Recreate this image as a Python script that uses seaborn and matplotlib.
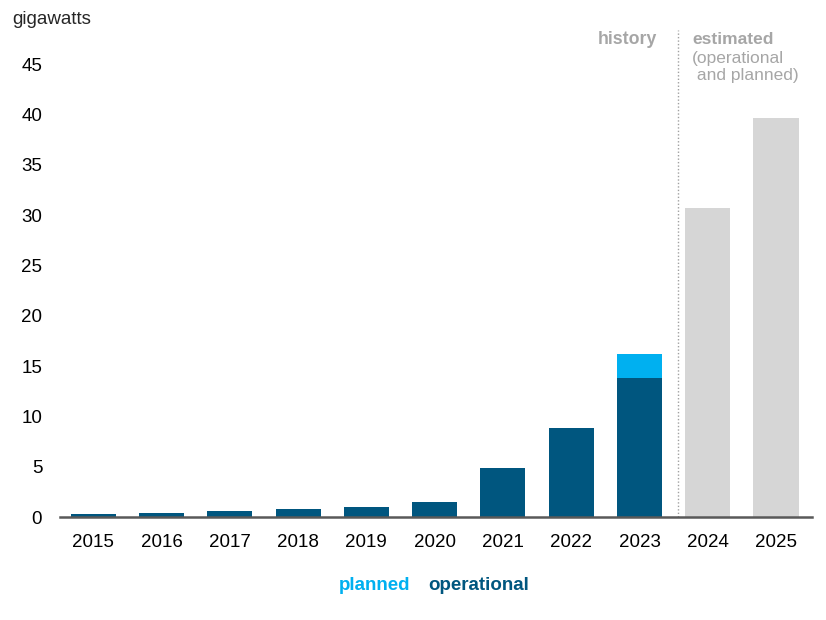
import numpy as np
import pandas as pd
import seaborn as sns
import matplotlib.pyplot as plt

# data (gigawatts)
years = ["2015", "2016", "2017", "2018", "2019", "2020", "2021", "2022", "2023", "2024", "2025"]
hist_years = ["2015", "2016", "2017", "2018", "2019", "2020", "2021", "2022", "2023"]
operational = [0.3, 0.45, 0.6, 0.8, 1.0, 1.45, 4.9, 8.9, 13.8]
planned = [0, 0, 0, 0, 0, 0, 0, 0, 2.4]
est_years = ["2024", "2025"]
estimated = [30.7, 39.7]

dark = "#00567f"
light = "#00b0f0"
grey_bar = "#d6d6d6"
grey_txt = "#a6a6a6"

hist = pd.DataFrame({"year": hist_years, "operational": operational,
                     "total": np.array(operational) + np.array(planned)})
est = pd.DataFrame({"year": est_years, "estimated": estimated})

sns.set_style("white")
plt.rcParams["font.family"] = ["Liberation Sans", "DejaVu Sans"]

fig = plt.figure(figsize=(8.26, 6.2), dpi=100)
ax = fig.add_axes([0.073, 0.166, 0.910, 0.779])

sns.barplot(data=hist, x="year", y="total", order=years, color=light,
            width=0.66, saturation=1, linewidth=0, ax=ax)
sns.barplot(data=hist, x="year", y="operational", order=years, color=dark,
            width=0.66, saturation=1, linewidth=0, ax=ax)
sns.barplot(data=est, x="year", y="estimated", order=years, color=grey_bar,
            width=0.66, saturation=1, linewidth=0, ax=ax)

ax.set_xlim(-0.483, 10.527)
ax.set_ylim(0, 48)
ax.set_yticks(range(0, 50, 5))
ax.set_xlabel("")
ax.set_ylabel("")
ax.tick_params(axis="x", length=0, pad=12, labelsize=13.5, colors="black")
ax.tick_params(axis="y", length=0, pad=13, labelsize=13.5, colors="black")
for lab in ax.get_yticklabels():
    lab.set_horizontalalignment("right")

for s in ["left", "right", "top"]:
    ax.spines[s].set_visible(False)
ax.spines["bottom"].set_color("#595959")
ax.spines["bottom"].set_linewidth(1.8)

# history / estimated divider
ax.axvline(8.56, ymin=0, ymax=(517 - 30) / 483, color="#a0a0a0",
           linestyle=(0, (1, 1.5)), linewidth=1, clip_on=False)

fig.text(12 / 826, 1 - 20 / 620, "gigawatts", fontsize=13.5, va="center", ha="left")
fig.text(657 / 826, 1 - 39 / 620, "history", fontsize=12.8, fontweight="bold",
         color=grey_txt, ha="right", va="center")
fig.text(692 / 826, 1 - 39 / 620, "estimated", fontsize=12.5, fontweight="bold",
         color=grey_txt, ha="left", va="center")
fig.text(692 / 826, 1 - 67 / 620, "(operational\n and planned)", fontsize=12.5,
         color=grey_txt, ha="left", va="center", linespacing=1.1)

fig.text(410 / 826, 1 - 585 / 620, "planned", fontsize=13.5, fontweight="bold",
         color=light, ha="right", va="center")
fig.text(428 / 826, 1 - 585 / 620, "operational", fontsize=13.5, fontweight="bold",
         color=dark, ha="left", va="center")

fig.savefig("out.png", dpi=100)
